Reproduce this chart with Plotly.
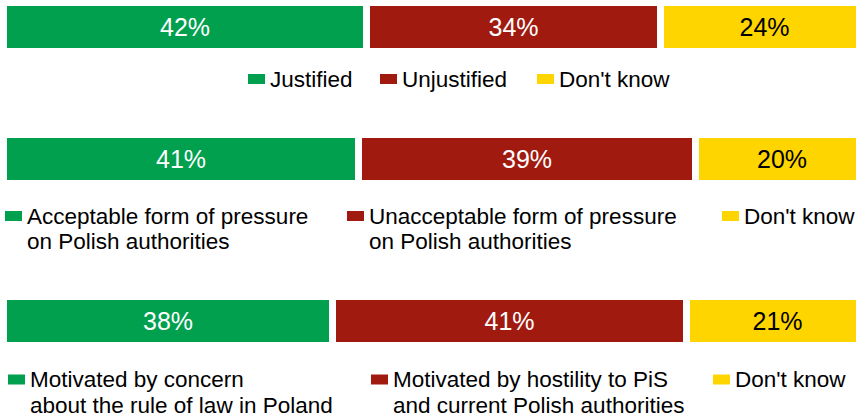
import plotly.graph_objects as go

# Survey results: one stacked bar per question
questions = ["Q1", "Q2", "Q3"]
green_vals = [42, 41, 38]
red_vals = [34, 39, 41]
yellow_vals = [24, 20, 21]

green_labels = [
    "Justified",
    "Acceptable form of pressure\non Polish authorities",
    "Motivated by concern\nabout the rule of law in Poland",
]
red_labels = [
    "Unjustified",
    "Unacceptable form of pressure\non Polish authorities",
    "Motivated by hostility to PiS\nand current Polish authorities",
]
yellow_labels = ["Don't know", "Don't know", "Don't know"]

# Styling / layout constants
GREEN = "#00A04F"
RED = "#A11A10"
YELLOW = "#FFD500"
FONT = "Liberation Sans, Arial, sans-serif"
W, H = 856, 418

# Pixel layout of each row: bar centre, legend first-line centre, swatch x positions
bar_centers = [27, 159, 321]
bar_thickness = 49
pad = 1.4  # axis span relative to bar thickness, keeps bar edges off the clip edge
legend_y = [79, 216, 379.5]
swatch_x = [[248, 380, 537], [5, 347, 722], [8, 371, 713]]
line_gap = 25.5
x_range = [-0.462, 98.497]

fig = go.Figure()

series = [
    (green_vals, GREEN, "white", green_labels),
    (red_vals, RED, "white", red_labels),
    (yellow_vals, YELLOW, "black", yellow_labels),
]

for i, q in enumerate(questions):
    suffix = "" if i == 0 else str(i + 1)
    for vals, color, tcolor, _ in series:
        fig.add_trace(go.Bar(
            x=[vals[i]], y=[q], orientation="h",
            marker=dict(color=color, line=dict(color="white", width=7)),
            text=[f"{vals[i]}%"], textposition="inside",
            insidetextanchor="middle", textangle=0,
            textfont=dict(family=FONT, size=25, color=tcolor),
            xaxis="x" + suffix, yaxis="y" + suffix,
            showlegend=False, hoverinfo="skip",
        ))
    half = bar_thickness * pad / 2
    top = max(bar_centers[i] - half, 0)
    bot = bar_centers[i] + half
    span = (bot - top) / bar_thickness
    fig.update_layout(**{
        "xaxis" + suffix: dict(range=x_range, visible=False, fixedrange=True,
                               anchor="y" + suffix, domain=[0, 1]),
        "yaxis" + suffix: dict(
            range=[-0.5 - (bot - bar_centers[i]) / bar_thickness + 0.5,
                   0.5 + (bar_centers[i] - top) / bar_thickness - 0.5],
            visible=False, fixedrange=True, anchor="x" + suffix,
            domain=[1 - bot / H, 1 - top / H]),
    })

# Hand-built legends below each bar
shapes = []
annotations = []
for i in range(len(questions)):
    for j, (_, color, _, labels) in enumerate(series):
        sx = swatch_x[i][j]
        cy = legend_y[i]
        shapes.append(dict(
            type="rect", xref="paper", yref="paper",
            x0=sx / W, x1=(sx + 17) / W,
            y0=1 - (cy + 5) / H, y1=1 - (cy - 5) / H,
            fillcolor=color, line=dict(width=0),
        ))
        for k, line in enumerate(labels[i].split("\n")):
            annotations.append(dict(
                text=line, xref="paper", yref="paper",
                x=(sx + 20) / W, y=1 - (cy + k * line_gap) / H,
                xanchor="left", yanchor="middle", showarrow=False,
                font=dict(family=FONT, size=22.5, color="black"),
            ))

fig.update_layout(
    width=W, height=H,
    margin=dict(l=0, r=0, t=0, b=0),
    barmode="stack", bargap=0,
    paper_bgcolor="white", plot_bgcolor="white",
    shapes=shapes, annotations=annotations,
)

fig.write_html("out.html")
